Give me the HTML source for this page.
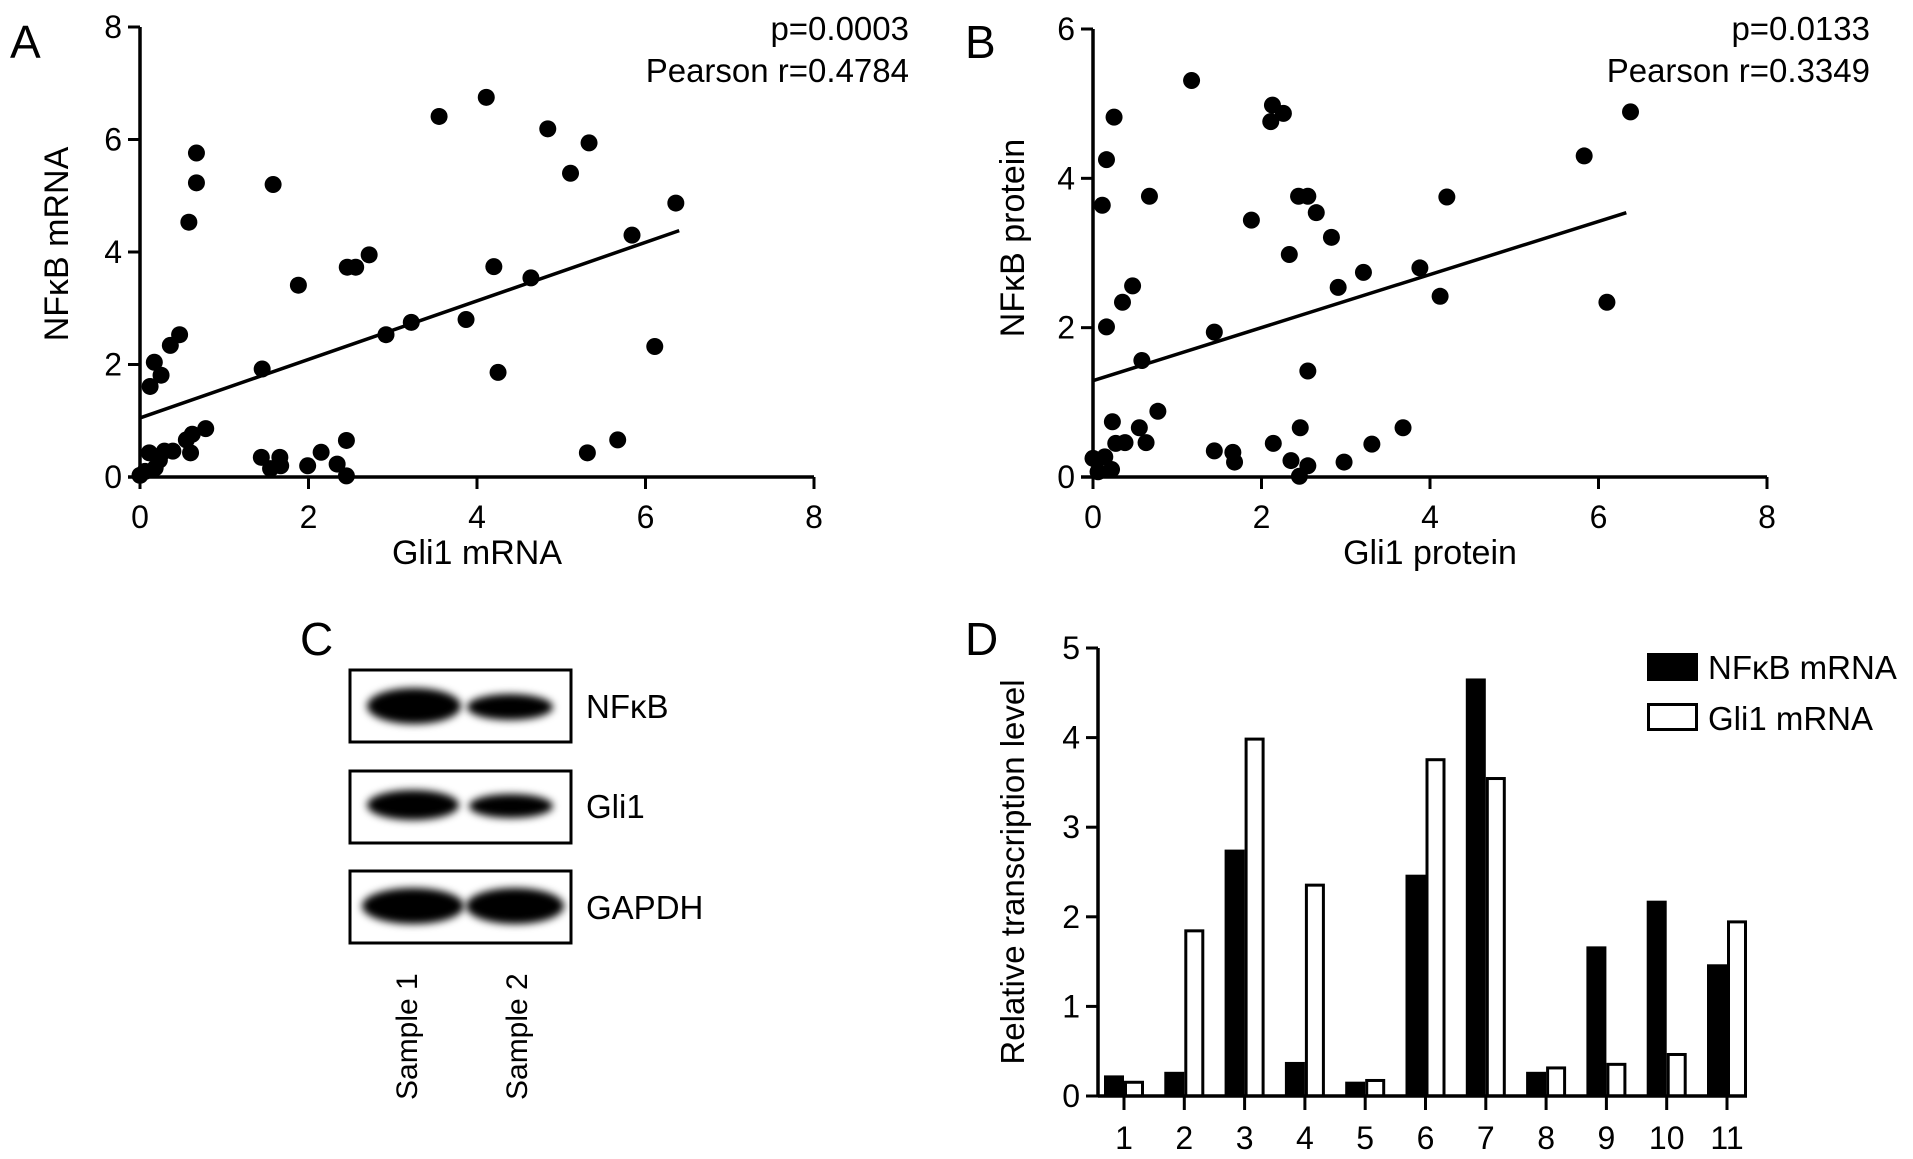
<!DOCTYPE html>
<html><head><meta charset="utf-8"><style>
html,body{margin:0;padding:0;background:#fff;}
svg{display:block;font-family:"Liberation Sans",sans-serif;}
</style></head><body>
<svg id="fig" width="1913" height="1159" viewBox="0 0 1913 1159" xmlns="http://www.w3.org/2000/svg">
<g id="pA"></g>
<g id="pB"></g>
<g id="pC">
  <text x="300" y="655" font-size="46">C</text>
  <defs>
    <filter id="blur" x="-20%" y="-50%" width="140%" height="200%"><feGaussianBlur stdDeviation="4"/></filter>
  </defs>
  <g>
    <rect x="350" y="670" width="221" height="72" fill="#fff" stroke="#000" stroke-width="3"/>
    <ellipse cx="414" cy="706" rx="47" ry="18" fill="#000" filter="url(#blur)"/>
    <ellipse cx="510" cy="707" rx="43" ry="13" fill="#000" filter="url(#blur)"/>
  </g>
  <text x="586" y="718" font-size="33">NFκB</text>
  <g>
    <rect x="350" y="771" width="221" height="72" fill="#fff" stroke="#000" stroke-width="3"/>
    <ellipse cx="413" cy="805" rx="46" ry="15" fill="#000" filter="url(#blur)"/>
    <ellipse cx="511" cy="806" rx="42" ry="12" fill="#000" filter="url(#blur)"/>
  </g>
  <text x="586" y="818" font-size="33">Gli1</text>
  <g>
    <rect x="350" y="871" width="221" height="72" fill="#fff" stroke="#000" stroke-width="3"/>
    <ellipse cx="413" cy="906" rx="51" ry="18" fill="#000" filter="url(#blur)"/>
    <ellipse cx="515" cy="906" rx="49" ry="18" fill="#000" filter="url(#blur)"/>
  </g>
  <text x="586" y="919" font-size="33">GAPDH</text>
  <text transform="translate(417,1100) rotate(-90)" font-size="30">Sample 1</text>
  <text transform="translate(527,1100) rotate(-90)" font-size="30">Sample 2</text>
</g>
<g id="pD"></g>
</svg>
<script>
const NS="http://www.w3.org/2000/svg";
// Panel A data
const aX=[0.12,0.17,0.25,0.36,0.47,0.58,0.67,0.67,1.58,1.45,1.88,2.46,2.56,2.72,2.92,3.22,3.55,4.11,3.87,4.20,4.25,4.64,4.84,5.11,5.33,5.31,5.67,5.84,6.11,6.36,0.06,0.11,0.18,0.23,0.29,0.39,0.55,0.62,0.60,0.78,0.0,1.44,1.55,1.66,1.67,1.99,2.15,2.34,2.45,2.45];
const aY=[1.61,2.04,1.81,2.34,2.53,4.53,5.23,5.76,5.20,1.92,3.41,3.73,3.73,3.95,2.53,2.75,6.41,6.75,2.80,3.74,1.86,3.54,6.19,5.40,5.94,0.43,0.66,4.30,2.32,4.87,0.10,0.43,0.16,0.30,0.46,0.46,0.66,0.76,0.43,0.86,0.03,0.35,0.15,0.35,0.20,0.20,0.44,0.23,0.65,0.02];
const aFitX=[0,6.4];
const aFitY=[1.05,4.38];
const aXTicks=[0,2,4,6,8];
const aYTicks=[0,2,4,6,8];
// Panel B data
const bX=[0.11,0.16,0.25,0.16,0.35,0.47,0.58,0.67,1.17,1.44,1.88,2.13,2.11,2.26,2.33,2.44,2.55,2.65,2.83,2.91,3.21,3.88,4.12,4.20,5.83,6.10,6.38,2.55,0.23,0.55,0.77,0.63,0.38,0.27,0.0,0.14,0.22,0.06,1.44,1.66,1.68,2.14,2.35,2.46,2.45,2.55,2.98,3.31,3.68];
const bY=[3.64,4.25,4.82,2.01,2.34,2.56,1.56,3.76,5.31,1.94,3.44,4.98,4.76,4.87,2.98,3.76,3.76,3.54,3.21,2.54,2.74,2.80,2.42,3.75,4.30,2.34,4.89,1.42,0.74,0.66,0.88,0.46,0.46,0.45,0.25,0.27,0.10,0.07,0.35,0.33,0.20,0.45,0.22,0.66,0.01,0.15,0.20,0.44,0.66];
const bFitX=[0,6.33];
const bFitY=[1.29,3.54];
const bXTicks=[0,2,4,6,8];
const bYTicks=[0,2,4,6];
// Panel D data
const dCats=["1","2","3","4","5","6","7","8","9","10","11"];
const dNfkb=[0.23,0.27,2.75,0.38,0.16,2.47,4.66,0.27,1.67,2.18,1.47];
const dGli1=[0.17,1.86,4.0,2.37,0.19,3.77,3.56,0.33,0.37,0.48,1.96];
const dYTicks=[0,1,2,3,4,5];

function el(tag,attrs,parent,text){const e=document.createElementNS(NS,tag);for(const k in attrs)e.setAttribute(k,attrs[k]);if(text!==undefined)e.textContent=text;parent.appendChild(e);return e;}

function scatter(g,cfg){
  const sx=v=>cfg.x0+(v-0)/(cfg.xmax)*(cfg.x1-cfg.x0);
  const sy=v=>cfg.y0-(v/cfg.ymax)*(cfg.y0-cfg.y1);
  let t=el('text',{x:cfg.lx,y:58,'font-size':46},g,cfg.letter);
  
  
  let ax=el('path',{d:`M${cfg.x0-12},${cfg.y0}H${cfg.x1}M${cfg.x0},${cfg.y0}V${cfg.y1}`,stroke:'#000','stroke-width':3.5,fill:'none'},g);
  
  
  cfg.xt.forEach(v=>{
    const tk=el('line',{x1:sx(v),x2:sx(v),y1:cfg.y0,y2:cfg.y0+12,stroke:'#000','stroke-width':3},g);
    
    
    const tl=el('text',{x:sx(v),y:cfg.y0+51,'font-size':32,'text-anchor':'middle'},g,String(v));
    
    
  });
  cfg.yt.forEach(v=>{
    const tk=el('line',{x1:cfg.x0-12,x2:cfg.x0,y1:sy(v),y2:sy(v),stroke:'#000','stroke-width':3},g);
    
    
    const tl=el('text',{x:cfg.x0-18,y:sy(v)+11,'font-size':32,'text-anchor':'end'},g,String(v));
    
    
  });
  const xt=el('text',{x:(cfg.x0+cfg.x1)/2,y:564,'font-size':34,'text-anchor':'middle'},g,cfg.xTitle);
  
  
  const yt=el('text',{transform:`translate(${cfg.ytx},${cfg.yty}) rotate(-90)`,'font-size':34,'text-anchor':'middle'},g,cfg.yTitle);
  
  
  const s1=el('text',{x:cfg.sx,y:40,'font-size':33,'text-anchor':'end'},g,cfg.p);
  
  
  const s2=el('text',{x:cfg.sx,y:82,'font-size':33,'text-anchor':'end'},g,cfg.r);
  
  
  cfg.X.forEach((v,i)=>{
    const c=el('circle',{cx:sx(v),cy:sy(cfg.Y[i]),r:8.5,fill:'#000'},g);
    
    
  });
  const ln=el('line',{x1:sx(cfg.fx[0]),y1:sy(cfg.fy[0]),x2:sx(cfg.fx[1]),y2:sy(cfg.fy[1]),stroke:'#000','stroke-width':3.5},g);
  
  
}
scatter(document.getElementById('pA'),{pre:'a',letter:'A',lx:10,x0:140,x1:814,xmax:8,y0:477,y1:27,ymax:8,xt:aXTicks,yt:aYTicks,X:aX,Y:aY,fx:aFitX,fy:aFitY,xTitle:'Gli1 mRNA',yTitle:'NFκB mRNA',ytx:68,yty:244,sx:909,p:'p=0.0003',r:'Pearson r=0.4784'});
scatter(document.getElementById('pB'),{pre:'b',letter:'B',lx:965,x0:1093,x1:1767,xmax:8,y0:477,y1:29,ymax:6,xt:bXTicks,yt:bYTicks,X:bX,Y:bY,fx:bFitX,fy:bFitY,xTitle:'Gli1 protein',yTitle:'NFκB protein',ytx:1024,yty:238,sx:1870,p:'p=0.0133',r:'Pearson r=0.3349'});

(function(){
  const g=document.getElementById('pD');
  const y0=1096,y1=648,ymax=5,x0=1098,x1=1747;
  const sy=v=>y0-v/ymax*(y0-y1);
  const cx=i=>1124+i*60.3;
  const bw=20;
  let t=el('text',{x:965,y:655,'font-size':46},g,'D');
  
  
  dCats.forEach((c,i)=>{
    const b1=el('rect',{x:cx(i)-bw,y:sy(dNfkb[i]),width:bw,height:y0-sy(dNfkb[i]),fill:'#000'},g);
    
    
    const h=y0-sy(dGli1[i]);
    const b2=el('rect',{x:cx(i)+1.5,y:sy(dGli1[i])+1.5,width:bw-3,height:Math.max(h-1.5,0),fill:'#fff',stroke:'#000','stroke-width':3},g);
    
    
    const tk=el('line',{x1:cx(i),x2:cx(i),y1:y0,y2:y0+14,stroke:'#000','stroke-width':3},g);
    
    
    const tl=el('text',{x:cx(i),y:1149,'font-size':32,'text-anchor':'middle'},g,c);
    
    
  });
  const ax=el('path',{d:`M${x0},${y0}H${x1}M${x0},${y0}V${y1}`,stroke:'#000','stroke-width':3.5,fill:'none'},g);
  
  
  dYTicks.forEach(v=>{
    const tk=el('line',{x1:x0-12,x2:x0,y1:sy(v),y2:sy(v),stroke:'#000','stroke-width':3},g);
    
    
    const tl=el('text',{x:x0-18,y:sy(v)+11,'font-size':32,'text-anchor':'end'},g,String(v));
    
    
  });
  const yt=el('text',{transform:'translate(1024,872) rotate(-90)','font-size':33,'text-anchor':'middle'},g,'Relative transcription level');
  
  
  const l1=el('rect',{x:1647,y:653,width:51,height:28,fill:'#000'},g);
  
  
  const lt1=el('text',{x:1708,y:679,'font-size':33},g,'NFκB mRNA');
  
  
  const l2=el('rect',{x:1648.5,y:704.5,width:48,height:25,fill:'#fff',stroke:'#000','stroke-width':3},g);
  
  
  const lt2=el('text',{x:1708,y:730,'font-size':33},g,'Gli1 mRNA');
  
  
})();
</script>
</body></html>
